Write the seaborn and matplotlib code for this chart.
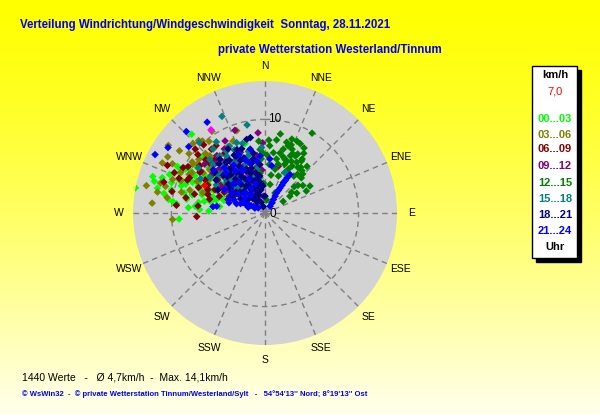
import numpy as np
import pandas as pd
import matplotlib
matplotlib.use("Agg")
import matplotlib.pyplot as plt
from matplotlib.patches import Rectangle
import seaborn as sns

# ---------------- data (bearing in degrees, speed in km/h) ----------------
g0003_dir = [281, 288, 277, 266, 317, 297.5, 291, 284, 284, 290, 289, 281, 275.5, 273, 285, 278, 304, 297,
             300, 298, 289, 291.5, 344, 304, 285, 301, 292, 285, 290, 295, 288, 292, 280, 283, 298, 287, 294, 276, 279,
             282, 284, 286, 288, 290, 293, 295, 297, 299, 302, 304, 306, 309, 312, 278, 281, 286, 274, 272, 287]
g0003_spd = [14.1, 12.6, 9.9, 9.2, 11.5, 10.1, 9.8, 8.9, 8.0, 7.4, 6.6, 6.6, 7.5, 7.0, 5.4, 4.9, 5.2, 4.4,
             9.3, 10.6, 11.6, 6.4, 7.7, 5.8, 5.7, 6.9, 7.7, 8.0, 9.0, 7.8, 10.5, 11.0, 8.5, 11.8, 8.5, 5.8, 6.0, 9.5, 7.2,
             6.0, 10.3, 7.0, 9.4, 5.0, 8.4, 10.0, 6.8, 9.7, 7.5, 8.7, 6.4, 7.7, 9.0, 10.4, 11.0, 12.3, 8.2, 6.0, 4.6]

g0306_dir = [275, 281, 296, 305, 286, 266, 304, 317.5, 319, 306, 312, 316, 336, 330.5, 307, 308, 297, 285, 341, 304,
             300, 305, 295, 310, 290, 298, 308, 315, 288, 302,
             284, 287, 291, 293, 296, 299, 303, 306, 309, 312, 314, 318, 322, 327, 279, 283, 300]
g0306_spd = [12.1, 11.7, 12.2, 12.6, 11.6, 9.9, 9.3, 10.5, 10.2, 8.9, 8.6, 8.5, 8.4, 8.1, 6.3, 7.5, 9.1, 11.0, 9.3, 3.9,
             7.0, 9.5, 8.0, 7.5, 10.5, 11.2, 10.3, 9.0, 7.0, 5.8,
             9.2, 8.4, 9.6, 6.6, 10.0, 8.9, 7.9, 11.3, 9.1, 6.6, 10.7, 8.0, 9.7, 10.4, 10.6, 13.0, 12.0]

g0609_dir = [275, 267, 312.5, 299, 292, 295, 303, 312, 320, 324, 284, 292, 312, 290, 318, 320, 276, 335, 295,
             300, 305, 310, 296, 315, 290, 302, 308, 298, 320, 285, 293, 312,
             288, 291, 294, 297, 299, 301, 304, 306, 309, 311, 313, 316, 318, 322, 326, 281, 283, 287, 296]
g0609_spd = [9.5, 7.3, 10.1, 10.0, 9.9, 8.9, 8.2, 8.5, 8.9, 8.9, 6.1, 6.6, 5.1, 4.2, 7.2, 6.4, 7.2, 6.3, 5.9,
             5.5, 7.0, 5.3, 6.8, 6.2, 5.2, 8.2, 4.0, 3.8, 6.8, 7.8, 9.0, 8.0,
             6.4, 7.6, 10.6, 4.9, 7.3, 9.6, 6.2, 8.6, 6.9, 9.5, 4.6, 7.8, 9.8, 5.6, 7.7, 8.6, 10.2, 11.3, 11.6]

g0912_dir = [355, 331, 340, 335, 338, 340, 332, 314, 305, 354, 319, 16, 327.6, 308, 295,
             310, 318, 324, 330, 336, 342, 348, 305, 315, 326, 300, 352, 320,
             302, 307, 312, 316, 321, 323, 328, 331, 334, 338, 344, 346, 350, 356, 358, 309]
g0912_spd = [8.6, 8.8, 9.4, 5.5, 4.3, 2.7, 6.5, 6.7, 5.0, 1.8, 5.2, 5.2, 8.1, 7.0, 4.2,
             4.5, 3.8, 5.2, 3.4, 4.8, 5.8, 3.6, 6.2, 7.5, 6.5, 4.8, 6.2, 8.0,
             5.6, 3.3, 6.8, 5.4, 4.2, 7.0, 4.7, 6.0, 2.6, 7.0, 4.5, 6.9, 5.0, 4.6, 7.5, 8.3]

g1215_dir = [11, 17, 23, 27, 24, 32, 34.5, 30.5, 59, 58, 56, 57.5, 8, 12, 4, 20.5, 28, 16, 28, 38, 20, 10,
             355, 355.5, 356, 353, 357, 24, 41, 42, 26.5, 7, 20, 14, 22, 30, 36, 19, 25, 33, 50, 46, 54, 62, 9, 2, 13, 26,
             5, 9, 15, 18, 21, 23, 27, 29, 31, 35, 38, 40, 44, 48, 52, 3, 358, 352]
g1215_spd = [8.6, 7.9, 7.4, 8.3, 6.7, 6.4, 7.0, 9.9, 5.6, 4.0, 3.2, 2.3, 6.5, 5.9, 7.2, 6.1, 6.9, 7.1, 5.3, 5.0, 4.2, 3.1,
             7.7, 6.8, 5.8, 4.3, 3.2, 8.4, 6.0, 6.7, 2.4, 1.4, 8.4, 6.6, 5.6, 5.8, 6.0, 7.6, 7.0, 7.6, 4.6, 5.4, 5.0, 5.0, 7.9, 6.2, 4.8, 4.8,
             5.2, 4.1, 5.4, 6.3, 7.8, 6.0, 6.2, 7.2, 8.1, 6.8, 6.2, 5.4, 5.8, 4.2, 3.6, 7.8, 6.4, 5.1]

g1518_dir = [336, 348.5, 317, 325.6, 328, 338, 338, 357, 344, 26.6, 327.6, 339, 321.5, 327, 314, 314, 313, 330, 332,
             315, 320, 325, 330, 335, 340, 345, 310, 318, 322, 328, 334, 308, 300, 350, 312,
             303, 306, 311, 313, 316, 319, 323, 326, 329, 331, 333, 336, 339, 342, 344, 347, 352, 298, 304, 321]
g1518_spd = [11.3, 9.6, 10.3, 9.2, 7.8, 8.1, 6.2, 7.0, 6.4, 4.8, 6.4, 4.6, 7.8, 4.3, 8.2, 6.2, 4.2, 2.5, 8.1,
             5.0, 5.8, 4.3, 6.0, 5.2, 3.0, 6.8, 6.5, 7.0, 3.2, 3.7, 7.5, 5.2, 6.0, 4.8, 4.0,
             7.0, 4.4, 5.8, 7.6, 3.6, 6.2, 4.9, 7.3, 5.5, 4.0, 6.6, 3.4, 5.6, 7.8, 4.2, 5.9, 3.8, 7.8, 8.6, 8.8]

g1821_dir = [349, 346, 340, 333, 348, 333, 309, 356, 330, 313, 322.5, 325, 346, 346, 337, 330, 320, 0,
             320, 325, 330, 335, 340, 345, 318, 322, 328, 335, 338, 342, 310, 315, 350, 352, 330, 326, 312, 305, 300, 345, 340, 320, 332,
             302, 306, 308, 311, 314, 316, 319, 321, 323, 324, 327, 329, 331, 333, 336, 337, 339, 341, 343, 344, 347, 349, 351, 354,
             298, 296, 304, 309, 317, 336]
g1821_spd = [8.2, 8.1, 7.3, 6.8, 5.9, 1.6, 1.1, 2.9, 3.3, 3.2, 6.8, 5.3, 3.7, 0.7, 5.1, 7.9, 7.5, 1.8,
             4.0, 3.5, 2.8, 2.2, 4.5, 3.0, 5.5, 6.0, 5.0, 6.2, 3.8, 2.0, 3.5, 4.5, 2.5, 4.0, 4.2, 6.8, 6.0, 4.5, 3.0, 5.5, 1.2, 2.0, 7.0,
             2.5, 3.8, 5.0, 2.3, 5.6, 3.2, 4.8, 2.6, 5.9, 1.5, 4.6, 2.0, 5.7, 3.8, 4.9, 2.9, 6.3, 3.6, 5.0, 2.4, 4.4, 6.5, 3.3, 5.2,
             4.0, 5.6, 6.3, 6.9, 7.2, 7.4]

g2124_dir = [32, 31, 31, 30, 32, 37, 295, 297, 300, 307, 327.5, 316, 304, 298, 311, 5, 8, 355, 278, 343, 277, 333,
             305, 315, 325, 335, 300, 318, 330, 310, 290, 340, 33, 31.5, 30.5, 31, 34, 32, 295, 298,
             302, 308, 312, 316, 320, 322, 327, 332, 336, 342, 347, 351, 288, 291, 293, 296, 286, 289]
g2124_spd = [4.4, 3.8, 3.1, 2.5, 1.7, 0.9, 2.6, 2.0, 1.4, 0.9, 11.5, 12.1, 12.5, 13.3, 10.8, 5.8, 5.1, 6.1, 5.2, 5.6, 5.6, 5.2,
             3.5, 3.0, 5.5, 4.0, 5.0, 6.5, 3.0, 7.2, 4.2, 6.0, 4.9, 3.5, 2.8, 2.1, 1.3, 4.1, 2.3, 1.7,
             4.2, 2.7, 4.6, 6.0, 4.3, 2.4, 6.1, 5.1, 6.8, 3.3, 7.0, 5.6, 3.2, 2.8, 3.6, 1.2, 4.0, 1.9]

extra_dir = [327, 294.5]
extra_spd = [10.6, 7.1]
extra_col = ["#FF00FF", "#FF0000"]

group_labels = ["00...03", "03...06", "06...09", "09...12", "12...15", "15...18", "18...21", "21...24"]
group_colors = ["#00FF00", "#808000", "#800000", "#800080", "#008000", "#008080", "#000080", "#0000FF"]
compass = ["N", "NNE", "NE", "ENE", "E", "ESE", "SE", "SSE", "S", "SSW", "SW", "WSW", "W", "WNW", "NW", "NNW"]
r_max = 14.1
n_values = 1440
mean_speed = "4,7"
max_speed = "14,1"
legend_value = "7,0"

# ---------------- build table ----------------
dirs = [g0003_dir, g0306_dir, g0609_dir, g0912_dir, g1215_dir, g1518_dir, g1821_dir, g2124_dir]
spds = [g0003_spd, g0306_spd, g0609_spd, g0912_spd, g1215_spd, g1518_spd, g1821_spd, g2124_spd]
rows = []
for lab, d, s in zip(group_labels, dirs, spds):
    for a, b in zip(d, s):
        rows.append({"theta": np.deg2rad(a), "speed": b, "group": lab})
df = pd.DataFrame(rows)

sns.set_theme(style="white")
plt.rcParams["font.family"] = ["Liberation Sans", "DejaVu Sans"]

fig = plt.figure(figsize=(6.0, 4.15), dpi=100)

# background gradient
bg = fig.add_axes([0, 0, 1, 1])
grad = np.linspace(0, 1, 256)
cols = np.ones((256, 1, 3))
cols[:, 0, 2] = 0.93 * grad ** 1.3
bg.imshow(cols, aspect="auto", extent=[0, 1, 0, 1])
bg.set_axis_off()

cx, cy, rad = 265, 213, 132
W, H = 600, 415
ax = fig.add_axes([(cx - rad) / W, (H - cy - rad) / H, 2 * rad / W, 2 * rad / H], projection="polar")
ax.set_theta_zero_location("N")
ax.set_theta_direction(-1)
ax.set_facecolor("#D3D3D3")
ax.set_ylim(0, r_max)
ax.set_thetagrids(np.arange(0, 360, 22.5), labels=[""] * 16)
ax.set_rgrids([10], labels=[""])
ax.grid(True, color="#7F7F7F", linestyle=(0, (4, 3)), linewidth=1.0)
ax.spines["polar"].set_visible(False)

for lab, col in zip(group_labels, group_colors):
    sub = df[df["group"] == lab]
    sns.scatterplot(data=sub, x="theta", y="speed", color=col, marker="D", s=15,
                    edgecolor="none", linewidth=0, ax=ax, legend=False, zorder=3)
ax.scatter(np.deg2rad(extra_dir), extra_spd, c=extra_col, marker="D", s=15, linewidths=0, zorder=4)
ax.set_xlabel("")
ax.set_ylabel("")

for i, name in enumerate(compass):
    ax.text(np.deg2rad(i * 22.5), r_max * 1.11, name, ha="center", va="center",
            fontsize=7.5, color="black", clip_on=False)
ax.text(np.deg2rad(6), 10.1, "10", ha="center", va="center", fontsize=8.5, color="black", zorder=5)
ax.text(np.deg2rad(95), 0.85, "0", ha="center", va="center", fontsize=8.5, color="black", zorder=5)

# titles
fig.text(20 / W, 1 - 25 / H, "Verteilung Windrichtung/Windgeschwindigkeit  Sonntag, 28.11.2021",
         fontweight="bold", fontsize=8.3, color="#0000EE", ha="left", va="center")
fig.text(218 / W, 1 - 50 / H, "private Wetterstation Westerland/Tinnum",
         fontweight="bold", fontsize=8.3, color="#0000EE", ha="left", va="center")

# legend box
bx0, bx1, by0, by1 = 531.7, 577, 66, 258
fig.add_artist(Rectangle(((bx0 + 4) / W, (H - by1 - 4) / H), (bx1 - bx0) / W, (by1 - by0) / H,
                         transform=fig.transFigure, facecolor="black", edgecolor="black", lw=1))
fig.add_artist(Rectangle((bx0 / W, (H - by1) / H), (bx1 - bx0) / W, (by1 - by0) / H,
                         transform=fig.transFigure, facecolor="white", edgecolor="black", lw=1))
lx = 555 / W
fig.text(lx, 1 - 75 / H, "km/h", fontweight="bold", fontsize=8, ha="center", va="center", color="black")
fig.text(lx, 1 - 92 / H, legend_value, fontsize=8, ha="center", va="center", color="#FF0000")
ys = [119.3, 134.5, 149.5, 166, 182.5, 199, 215, 230.7]
for yy, lab, col in zip(ys, group_labels, group_colors):
    fig.text(lx, 1 - yy / H, lab, fontweight="bold", fontsize=8, ha="center", va="center", color=col)
fig.text(lx, 1 - 246.7 / H, "Uhr", fontweight="bold", fontsize=8, ha="center", va="center", color="black")

# footer
fig.text(21.5 / W, 1 - 377 / H, f"{n_values} Werte   -   Ø {mean_speed}km/h  -  Max. {max_speed}km/h",
         fontsize=7.5, ha="left", va="center", color="black")
fig.text(21.5 / W, 1 - 394 / H,
         "© WsWin32  -  © private Wetterstation Tinnum/Westerland/Sylt   -   54°54'13'' Nord; 8°19'13'' Ost",
         fontsize=5.5, fontweight="bold", ha="left", va="center", color="#0000EE")

fig.savefig("out.png", dpi=100)
